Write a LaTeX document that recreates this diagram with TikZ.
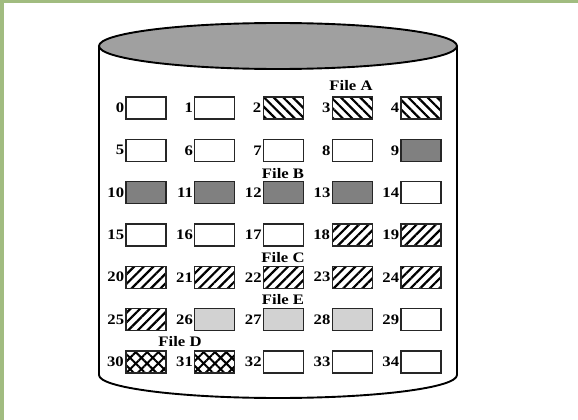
\documentclass[tikz,border=0pt]{standalone}
\usepackage{fontspec}
\setmainfont{Liberation Serif}
\newfontfamily\lblfont[FakeStretch=1.15]{Liberation Serif}
\usetikzlibrary{patterns.meta}
\definecolor{frame}{RGB}{161,188,128}
\definecolor{topgray}{RGB}{160,160,160}
\definecolor{darkfill}{RGB}{128,128,128}
\definecolor{lightfill}{RGB}{210,210,210}
\tikzset{
  blk/.style={draw=black!85, line width=1.4pt, minimum width=40pt, minimum height=22pt, inner sep=0pt, fill=white},
  empty/.style={},
  fa/.style={pattern={Lines[angle=-45,distance=6.8pt,line width=2.2pt]}},
  fc/.style={pattern={Lines[angle=45,distance=6.8pt,line width=2.2pt]}},
  fd/.style={pattern={Hatch[angle=45,distance=8pt,line width=2pt]}},
  fdark/.style={fill=darkfill},
  flight/.style={fill=lightfill},
  num/.style={anchor=east, inner sep=1pt, font=\lblfont\fontsize{14.5pt}{14.5pt}\selectfont\bfseries},
  ftitle/.style={inner sep=0pt, font=\lblfont\fontsize{14.5pt}{14.5pt}\selectfont\bfseries},
  cyl/.style={line width=1.9pt, draw=black}
}
\begin{document}
\begin{tikzpicture}[x=1pt,y=-1pt]
\useasboundingbox (0,0) rectangle (578,420);
\fill[white] (0,0) rectangle (578,420);
\fill[frame] (0,0) rectangle (578,3);
\fill[frame] (0,0) rectangle (4,420);
% cylinder
\draw[cyl] (99,46) -- (99,375) arc[start angle=180,end angle=0,x radius=179,y radius=23] -- (457,46);
\draw[cyl, fill=topgray] (278,46) ellipse[x radius=179, y radius=23];
% blocks
\foreach \n/\s in {0/empty,1/empty,2/fa,3/fa,4/fa,
                   5/empty,6/empty,7/empty,8/empty,9/fdark,
                   10/fdark,11/fdark,12/fdark,13/fdark,14/empty,
                   15/empty,16/empty,17/empty,18/fc,19/fc,
                   20/fc,21/fc,22/fc,23/fc,24/fc,
                   25/fc,26/flight,27/flight,28/flight,29/empty,
                   30/fd,31/fd,32/empty,33/empty,34/empty}{
  \pgfmathtruncatemacro\c{mod(\n,5)}
  \pgfmathtruncatemacro\r{div(\n,5)}
  \node[blk,\s] (b\n) at ({146+68.75*\c},{108+42.3*\r}) {};
  \node[num] (n\n) at (b\n.west) {\n};
}
\node[ftitle] (fileA) at (351,86) {File A};
\node[ftitle] (fileB) at (283,174) {File B};
\node[ftitle] (fileC) at (283,258) {File C};
\node[ftitle] (fileE) at (283,300) {File E};
\node[ftitle] (fileD) at (180,342) {File D};
\end{tikzpicture}
\end{document}
